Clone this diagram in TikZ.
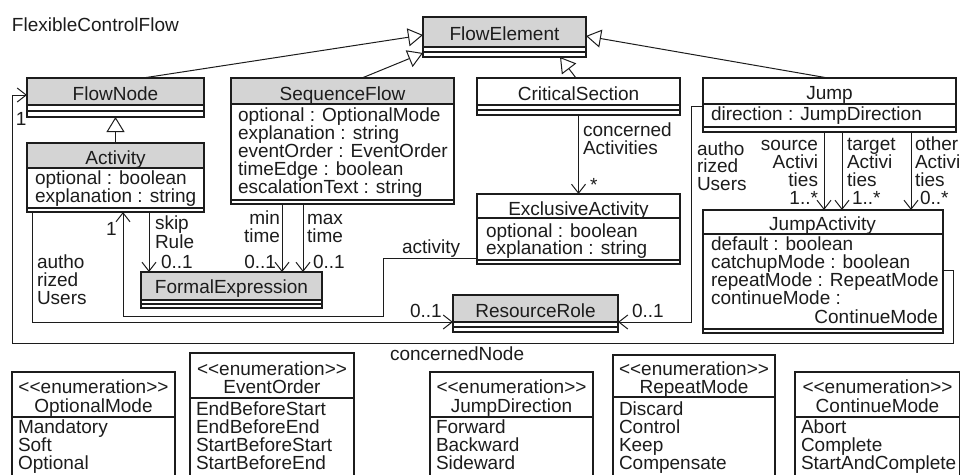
\documentclass[tikz,border=0pt]{standalone}
\usepackage{fontspec}
\setmainfont{Liberation Sans}
\usetikzlibrary{arrows.meta,fit}

\definecolor{hdr}{RGB}{212,212,212}
\definecolor{ink}{RGB}{28,28,28}

\tikzset{
  txt/.style={inner sep=0pt, outer sep=0pt, text=ink,
    font=\fontsize{19}{18}\selectfont},
  frame/.style={draw=ink, line width=1.1pt, inner sep=0pt, outer sep=0pt},
  rule/.style={draw=ink, line width=1.1pt},
  conn/.style={draw=ink, line width=1pt},
  nav/.style={conn, -{Straight Barb[length=9pt,width=14pt]}},
  gen/.style={conn, -{Triangle[open,length=15pt,width=18pt]}},
}

% class box: name, x1, y1, x2, header bottom, attribute bottom, y2, header fill
\newcommand\ClassBox[8]{%
  \fill[#8] (#2,#3) rectangle (#4,#5);
  \node[frame, fit={(#2,#3) (#4,#7)}] (#1) {};
  \draw[rule] (#2,#5) -- (#4,#5);
  \draw[rule] (#2,#6) -- (#4,#6);
}
% enumeration box: name, x1, y1, x2, header bottom
\newcommand\EnumBox[5]{%
  \node[frame, fit={(#2,#3) (#4,495)}] (#1) {};
  \draw[rule] (#2,#5) -- (#4,#5);
}
% lines of text: name prefix, anchor, x, first baseline, line step, lines
\newcommand\TextLines[6]{%
  \foreach \ln [count=\k] in {#6}
    \node[txt, anchor=#2] (#1-\k) at (#3, {#4+(\k-1)*#5}) {\ln};
}
\newcommand\stereo{<\kern0pt<enumeration>\kern0pt>}

\begin{document}
\begin{tikzpicture}[x=1pt,y=-1pt]
\useasboundingbox (0,0) rectangle (960,474);
\clip (0,0) rectangle (960,474);

\node[txt, anchor=base west] (title) at (12,31) {FlexibleControlFlow};

% classes
\ClassBox{flowelement}{423}{17}{586}{47}{52}{57}{hdr}
\ClassBox{flownode}{27}{78}{204}{105}{111}{117}{hdr}
\ClassBox{sequenceflow}{231}{78}{454}{104}{200}{204}{hdr}
\ClassBox{criticalsection}{477}{78}{680}{105}{110}{115}{white}
\ClassBox{jump}{703}{78}{956}{104}{127}{132}{white}
\ClassBox{activity}{27}{143}{204}{168}{208}{212}{hdr}
\ClassBox{exclusive}{477}{194}{680}{218}{260}{264}{white}
\ClassBox{jumpactivity}{703}{210}{943}{234}{329}{333}{white}
\ClassBox{formalexpr}{141}{272}{322}{300}{304}{308}{hdr}
\ClassBox{resourcerole}{453}{295}{618}{322}{327}{332}{hdr}

% class names
\node[txt, anchor=base] (n-flowelement) at (504.5,40) {FlowElement};
\node[txt, anchor=base] (n-flownode) at (115.5,100) {FlowNode};
\node[txt, anchor=base] (n-sequenceflow) at (342.5,100) {SequenceFlow};
\node[txt, anchor=base] (n-criticalsection) at (578.5,100) {CriticalSection};
\node[txt, anchor=base] (n-jump) at (829.5,99) {Jump};
\node[txt, anchor=base] (n-activity) at (115.5,164) {Activity};
\node[txt, anchor=base] (n-exclusive) at (578.5,215) {ExclusiveActivity};
\node[txt, anchor=base] (n-jumpactivity) at (822.5,230) {JumpActivity};
\node[txt, anchor=base] (n-formalexpr) at (231.5,293) {FormalExpression};
\node[txt, anchor=base] (n-resourcerole) at (535.5,317) {ResourceRole};

% attributes
\TextLines{a-sf}{base west}{238}{121}{18}{optional : OptionalMode,explanation : string,eventOrder : EventOrder,timeEdge : boolean,escalationText : string}
\TextLines{a-act}{base west}{35}{184}{18}{optional : boolean,explanation : string}
\node[txt, anchor=base west] (a-jump) at (711,120) {direction : JumpDirection};
\TextLines{a-ex}{base west}{486}{237}{17.5}{optional : boolean,explanation : string}
\TextLines{a-ja}{base west}{711}{250}{18}{default : boolean,catchupMode : boolean,repeatMode : RepeatMode,continueMode :}
\node[txt, anchor=base east] (a-ja-5) at (938,323) {ContinueMode};

% generalizations
\draw[gen] (flownode.north -| 143,0) -- (flowelement.west |- 0,35);
\draw[gen] (sequenceflow.north -| 362,0) -- (flowelement.west |- 0,53);
\draw[gen] (criticalsection.north -| 576,0) -- (flowelement.south -| 560,0);
\draw[gen] (jump.north -| 828,0) -- (flowelement.east |- 0,36);
\draw[gen] (activity.north) -- (flownode.south);

% associations
\draw[nav] (criticalsection.south) -- (exclusive.north);
\TextLines{l-ca}{base west}{583}{136}{18}{concerned,Activities}
\node[txt, anchor=base west] (l-ca-m) at (590,191) {*};

\draw[nav] (jump.south -| 824,0) -- (jumpactivity.north -| 824,0);
\draw[nav] (jump.south -| 842,0) -- (jumpactivity.north -| 842,0);
\draw[nav] (jump.south -| 911,0) -- (jumpactivity.north -| 911,0);
\TextLines{l-src}{base east}{818}{150}{18}{source,Activi,ties,1..*}
\TextLines{l-tgt}{base west}{847}{150}{18}{target,Activi,ties}
\node[txt, anchor=base west] (l-tgt-m) at (852,204) {1..*};
\TextLines{l-oth}{base west}{915}{150}{18}{other,Activi,ties}
\node[txt, anchor=base west] (l-oth-m) at (920,204) {0..*};

\draw[nav] (activity.south -| 149,0) -- (formalexpr.north -| 149,0);
\TextLines{l-skip}{base west}{155}{229}{19}{skip,Rule}
\node[txt, anchor=base west] (l-skip-m) at (161,268) {0..1};

\draw[nav] (sequenceflow.south -| 282,0) -- (formalexpr.north -| 282,0);
\TextLines{l-min}{base east}{280}{224}{18}{min,time}
\node[txt, anchor=base east] (l-min-m) at (276,268) {0..1};

\draw[nav] (sequenceflow.south -| 303,0) -- (formalexpr.north -| 303,0);
\TextLines{l-max}{base west}{307}{224}{18}{max,time}
\node[txt, anchor=base west] (l-max-m) at (313,268) {0..1};

% activity of an exclusive activity
\draw[nav] (exclusive.west |- 0,258) -- (383,258) -- (383,316) -- (123,316)
  -- (activity.south -| 123,0);
\node[txt, anchor=base west] (l-act) at (402,253) {activity};
\node[txt, anchor=base west] (l-act-m) at (106,235) {1};

% authorized users
\draw[nav] (activity.south -| 32,0) |- (resourcerole.west |- 0,322);
\TextLines{l-au1}{base west}{37}{268}{18}{autho,rized,Users}
\node[txt, anchor=base west] (l-au1-m) at (410,317) {0..1};

\draw[nav] (jump.west |- 0,106) -| (691,322) -- (resourcerole.east |- 0,322);
\TextLines{l-au2}{base west}{697}{155}{17.5}{autho,rized,Users}
\node[txt, anchor=base west] (l-au2-m) at (632,317) {0..1};

% concerned node
\draw[nav] (jumpactivity.east |- 0,270) -- (953,270) -- (953,343) -- (12,343)
  -- (12,95) -- (flownode.west |- 0,95);
\node[txt, anchor=base west] (l-cn) at (390,360) {concernedNode};
\node[txt, anchor=base west] (l-cn-m) at (16,125) {1};

% enumerations
\EnumBox{optionalmode}{12}{372}{175}{417}
\TextLines{e-om}{base}{93.5}{393}{19}{\stereo,OptionalMode}
\TextLines{v-om}{base west}{18}{433}{18}{Mandatory,Soft,Optional}

\EnumBox{eventorder}{190}{353}{354}{398}
\TextLines{e-eo}{base}{272}{375}{18.5}{\stereo,EventOrder}
\TextLines{v-eo}{base west}{196}{415}{18}{EndBeforeStart,EndBeforeEnd,StartBeforeStart,StartBeforeEnd}

\EnumBox{jumpdirection}{430}{372}{593}{417}
\TextLines{e-jd}{base}{511.5}{393}{19}{\stereo,JumpDirection}
\TextLines{v-jd}{base west}{436}{433}{18}{Forward,Backward,Sideward}

\EnumBox{repeatmode}{613}{355}{775}{397}
\TextLines{e-rm}{base}{694}{375}{18.5}{\stereo,RepeatMode}
\TextLines{v-rm}{base west}{619}{415}{18}{Discard,Control,Keep,Compensate}

\EnumBox{continuemode}{795}{372}{960}{417}
\TextLines{e-cm}{base}{877.5}{393}{19}{\stereo,ContinueMode}
\TextLines{v-cm}{base west}{801}{433}{18}{Abort,Complete,StartAndComplete}
\end{tikzpicture}
\end{document}
